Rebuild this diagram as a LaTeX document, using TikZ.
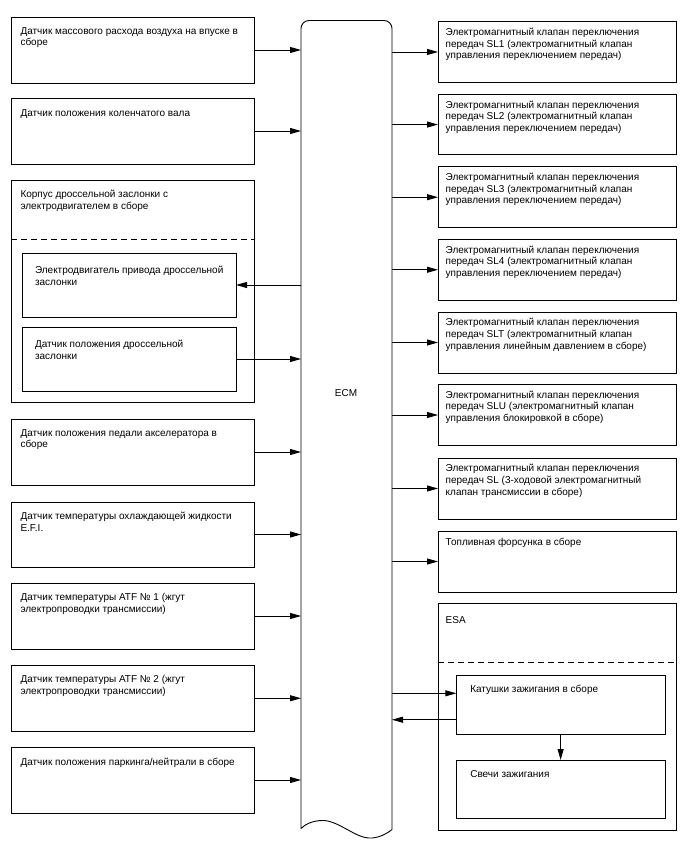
\documentclass[tikz,border=0pt]{standalone}
\usepackage{fontspec}
\setmainfont{Liberation Sans}
\usetikzlibrary{arrows.meta}
\begin{document}
\begin{tikzpicture}[x=1pt,y=1pt,
  box/.style={draw, line width=0.9pt, anchor=north west, inner sep=0pt, outer sep=0pt},
  lbox/.style={box, minimum width=243pt},
  rbox/.style={box, minimum width=238pt},
  txt/.style={anchor=north west, inner sep=0pt, outer sep=0pt, align=left,
    font=\fontsize{10}{11.7}\selectfont, execute at begin node=\strut},
  arr/.style={line width=0.9pt, -{Triangle[length=11pt,width=6pt]}},
  sepline/.style={line width=0.9pt, dash pattern=on 6pt off 4pt}]
\useasboundingbox (0,0) rectangle (688,-852);

% ECM
\node[inner sep=0pt, outer sep=0pt, minimum width=91pt, minimum height=808.5pt, anchor=north west] (ecm) at (301,-20.5) {};
\draw[line width=0.9pt] (301,-828.5) -- (301,-28.5) arc[start angle=180,end angle=90,radius=8]
  -- (384,-20.5) arc[start angle=90,end angle=0,radius=8] -- (392,-829.5)
  .. controls (386,-834.5) and (377,-838.5) .. (369,-838)
  .. controls (355,-837.5) and (338,-820.5) .. (323,-820.5)
  .. controls (312,-820.5) and (305,-824.5) .. (301,-828.5);
\node[font=\fontsize{10}{11.7}\selectfont, inner sep=0pt] (ecmtext) at (346,-392.7) {ECM};

% left boxes
\node[lbox, minimum height=66pt] (b1) at (11,-17) {};
\node[txt] (t1) at ([shift={(9.5,-10.2)}]b1.north west) {Датчик массового расхода воздуха на впуске в\\сборе};
\node[lbox, minimum height=66pt] (b2) at (11,-98) {};
\node[txt] (t2) at ([shift={(9.5,-10.2)}]b2.north west) {Датчик положения коленчатого вала};
\node[lbox, minimum height=222pt] (b3) at (11,-180) {};
\node[txt] (t3) at ([shift={(9.5,-10.2)}]b3.north west) {Корпус дроссельной заслонки с\\электродвигателем в сборе};
\draw[sepline] ([yshift=-59pt]b3.north west) -- ([yshift=-59pt]b3.north east);
\node[box, minimum width=214pt, minimum height=64pt] (m1) at (22,-253) {};
\node[txt] (tm1) at ([shift={(13,-13.3)}]m1.north west) {Электродвигатель привода дроссельной\\заслонки};
\node[box, minimum width=214pt, minimum height=64pt] (s1) at (22,-327) {};
\node[txt] (ts1) at ([shift={(13,-13)}]s1.north west) {Датчик положения дроссельной\\заслонки};
\node[lbox, minimum height=66pt] (b4) at (11,-419) {};
\node[txt] (t4) at ([shift={(9.5,-10.2)}]b4.north west) {Датчик положения педали акселератора в\\сборе};
\node[lbox, minimum height=65pt] (b5) at (11,-502) {};
\node[txt] (t5) at ([shift={(9.5,-10.2)}]b5.north west) {Датчик температуры охлаждающей жидкости\\E.F.I.};
\node[lbox, minimum height=66pt] (b6) at (11,-583) {};
\node[txt] (t6) at ([shift={(9.5,-10.2)}]b6.north west) {Датчик температуры ATF № 1 (жгут\\электропроводки трансмиссии)};
\node[lbox, minimum height=65.5pt] (b7) at (11,-665.5) {};
\node[txt] (t7) at ([shift={(9.5,-10.2)}]b7.north west) {Датчик температуры ATF № 2 (жгут\\электропроводки трансмиссии)};
\node[lbox, minimum height=66pt] (b8) at (11,-747) {};
\node[txt] (t8) at ([shift={(9.5,-10.2)}]b8.north west) {Датчик положения паркинга/нейтрали в сборе};

% right boxes
\node[rbox, minimum height=60.5pt] (r1) at (438,-21.7) {};
\node[txt] (u1) at ([shift={(7.7,-6.3)}]r1.north west) {Электромагнитный клапан переключения\\передач SL1 (электромагнитный клапан\\управления переключением передач)};
\node[rbox, minimum height=60.5pt] (r2) at (438,-94.3) {};
\node[txt] (u2) at ([shift={(7.7,-6.3)}]r2.north west) {Электромагнитный клапан переключения\\передач SL2 (электромагнитный клапан\\управления переключением передач)};
\node[rbox, minimum height=61pt] (r3) at (438,-166.7) {};
\node[txt] (u3) at ([shift={(7.7,-6.3)}]r3.north west) {Электромагнитный клапан переключения\\передач SL3 (электромагнитный клапан\\управления переключением передач)};
\node[rbox, minimum height=60.5pt] (r4) at (438,-239.5) {};
\node[txt] (u4) at ([shift={(7.7,-6.3)}]r4.north west) {Электромагнитный клапан переключения\\передач SL4 (электромагнитный клапан\\управления переключением передач)};
\node[rbox, minimum height=61pt] (r5) at (438,-312) {};
\node[txt] (u5) at ([shift={(7.7,-6.3)}]r5.north west) {Электромагнитный клапан переключения\\передач SLT (электромагнитный клапан\\управления линейным давлением в сборе)};
\node[rbox, minimum height=61pt] (r6) at (438,-384.5) {};
\node[txt] (u6) at ([shift={(7.7,-6.3)}]r6.north west) {Электромагнитный клапан переключения\\передач SLU (электромагнитный клапан\\управления блокировкой в сборе)};
\node[rbox, minimum height=61pt] (r7) at (438,-458) {};
\node[txt] (u7) at ([shift={(7.7,-6.3)}]r7.north west) {Электромагнитный клапан переключения\\передач SL (3-ходовой электромагнитный\\клапан трансмиссии в сборе)};
\node[rbox, minimum height=61pt] (r8) at (438,-531) {};
\node[txt] (u8) at ([shift={(7.7,-6.3)}]r8.north west) {Топливная форсунка в сборе};
\node[rbox, minimum height=226.7pt] (esa) at (438,-603.3) {};
\node[txt] (uesa) at ([shift={(7.7,-11.8)}]esa.north west) {ESA};
\draw[sepline] ([yshift=-58.7pt]esa.north west) -- ([yshift=-58.7pt]esa.north east);
\node[box, minimum width=208.7pt, minimum height=58.6pt] (coil) at (456.3,-675.7) {};
\node[txt] (ucoil) at ([shift={(14,-8.8)}]coil.north west) {Катушки зажигания в сборе};
\node[box, minimum width=208.7pt, minimum height=58pt] (plug) at (456.3,-760) {};
\node[txt] (uplug) at ([shift={(14,-8.8)}]plug.north west) {Свечи зажигания};

% connectors: inputs
\foreach \n in {b1,b2,s1,b4,b5,b6,b7,b8}
  \draw[arr] (\n.east) -- (\n.east -| ecm.west);
\draw[arr] (m1.east -| ecm.west) -- (m1.east);
% outputs
\foreach \n in {r1,r2,r3,r4,r5,r6,r7,r8}
  \draw[arr] (\n.west -| ecm.east) -- (\n.west);
\coordinate (cin) at ([yshift=11.7pt]coil.west);
\coordinate (cout) at ([yshift=-14.7pt]coil.west);
\draw[arr] (cin -| ecm.east) -- (cin);
\draw[arr] (cout) -- (cout -| ecm.east);
\draw[arr] (coil.south) -- (plug.north);
\end{tikzpicture}
\end{document}
